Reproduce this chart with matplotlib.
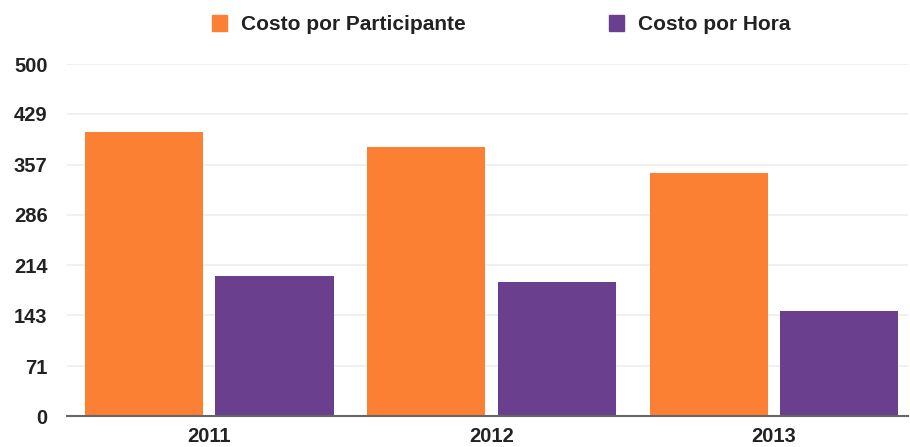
import matplotlib.pyplot as plt
import numpy as np

years = ['2011', '2012', '2013']
costo_participante = [403, 382, 345]
costo_hora = [199, 190, 149]
y_ticks = [0, 71, 143, 214, 286, 357, 429, 500]

orange = '#FC8033'
purple = '#6A408E'

plt.rcParams['font.family'] = ['Liberation Sans', 'DejaVu Sans']

fig = plt.figure(figsize=(9.1, 4.47), dpi=100)
W, H = 910, 447
ax = fig.add_axes([67 / W, (H - 416) / H, (908 - 67) / W, (416 - 64) / H])

x = np.arange(len(years))
width = 0.418
off = 0.231
ax.bar(x - off, costo_participante, width, color=orange, zorder=3)
ax.bar(x + off, costo_hora, width, color=purple, zorder=3)

ax.set_xlim(-0.504, 2.475)
ax.set_ylim(0, 500)
ax.set_yticks(y_ticks)
ax.set_yticklabels([str(v) for v in y_ticks], fontsize=14.5, fontweight='bold', color='#222222')
ax.set_xticks(x)
ax.set_xticklabels(years, fontsize=14.5, fontweight='bold', color='#222222')
ax.tick_params(axis='both', length=0)
ax.tick_params(axis='y', pad=14)
ax.tick_params(axis='x', pad=8)
ax.grid(axis='y', color='#EEEEEE', linewidth=1.2, zorder=0)
for s in ['top', 'right', 'left']:
    ax.spines[s].set_visible(False)
ax.spines['bottom'].set_color('#666666')
ax.spines['bottom'].set_linewidth(1.5)
ax.spines['bottom'].set_zorder(4)

# legend drawn manually at top
fig.patches.append(plt.Rectangle((212 / W, (H - 31) / H), 15 / W, 16 / H,
                                 transform=fig.transFigure, color=orange))
fig.patches.append(plt.Rectangle((609 / W, (H - 31) / H), 15 / W, 16 / H,
                                 transform=fig.transFigure, color=purple))
fig.text(241 / W, (H - 24) / H, 'Costo por Participante', fontsize=15,
         fontweight='bold', va='center', color='#222222')
fig.text(638 / W, (H - 24) / H, 'Costo por Hora', fontsize=15,
         fontweight='bold', va='center', color='#222222')

fig.savefig('out.png', dpi=100)
